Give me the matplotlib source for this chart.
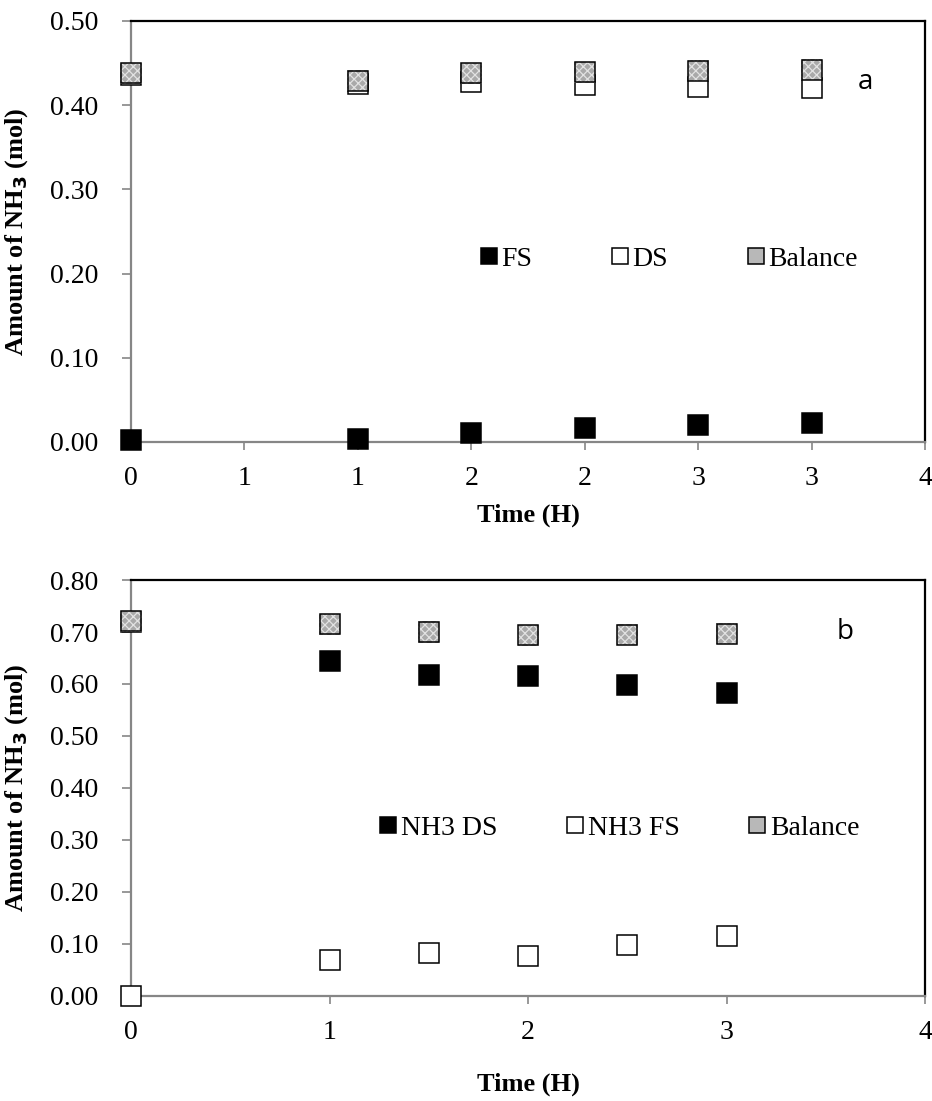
import numpy as np
import matplotlib
matplotlib.use('Agg')
import matplotlib.pyplot as plt
from matplotlib.lines import Line2D

plt.rcParams['font.family'] = 'Liberation Serif'
plt.rcParams['font.size'] = 20
plt.rcParams['hatch.linewidth'] = 0.9

# data
time = [0, 1, 1.5, 2, 2.5, 3]

fs_a = [0.002, 0.004, 0.011, 0.017, 0.020, 0.022]
ds_a = [0.436, 0.425, 0.428, 0.424, 0.422, 0.420]
bal_a = [0.438, 0.429, 0.438, 0.439, 0.441, 0.442]

ds_b = [0.720, 0.645, 0.617, 0.615, 0.598, 0.582]
fs_b = [0.000, 0.070, 0.082, 0.077, 0.098, 0.115]
bal_b = [0.721, 0.715, 0.700, 0.694, 0.695, 0.697]

xticks_a = [0, 0.5, 1, 1.5, 2, 2.5, 3, 3.5]
xlabels_a = ['0', '1', '1', '2', '2', '3', '3', '4']
xticks_b = [0, 1, 2, 3, 4]

GREY = '#868686'
BAL = '#a9a9a9'
ms = 14.5
mew = 1.1


def style_axes(ax):
    for s in ['left', 'bottom']:
        ax.spines[s].set_color(GREY)
        ax.spines[s].set_linewidth(1.6)
    for s in ['top', 'right']:
        ax.spines[s].set_color('black')
        ax.spines[s].set_linewidth(1.6)
    ax.tick_params(axis='y', direction='out', length=6.5, width=1.2,
                   color=GREY, pad=17)
    ax.tick_params(axis='x', direction='out', length=5.5, width=1.2,
                   color=GREY, pad=12)
    ax.set_ylabel('Amount of NH$_\\mathbf{3}$ (mol)', fontweight='bold', fontsize=19)
    ax.yaxis.set_label_coords(-0.127, 0.5)
    ax.yaxis.set_major_formatter(matplotlib.ticker.FormatStrFormatter('%.2f'))


def balance(ax, x, y):
    # grey stippled fill, light hatch, then the black outline on top
    ax.scatter(x, y, s=(ms + mew) ** 2 * 0.95, marker='s', facecolors=BAL,
               edgecolors='#e2e2e2', linewidths=0, hatch='xxxx',
               clip_on=False, zorder=4)
    ax.plot(x, y, 's', ms=ms, mfc='none', mec='black', mew=mew,
            clip_on=False, zorder=5)


def legend_handles(labels):
    styles = [dict(mfc='black', mec='black'),
              dict(mfc='white', mec='black'),
              dict(mfc='#b8b8b8', mec='black')]
    return [Line2D([], [], ls='none', marker='s', ms=12, mew=mew, label=l, **st)
            for l, st in zip(labels, styles)]


fig = plt.figure(figsize=(9.32, 11.01), dpi=100)

# ---- panel a
ax1 = fig.add_axes([0.1406, 0.5986, 0.852, 0.3824])
ax1.plot(time, fs_a, 's', ms=ms, mfc='black', mec='black', mew=mew, clip_on=False, zorder=3)
ax1.plot(time, ds_a, 's', ms=ms, mfc='white', mec='black', mew=mew, clip_on=False, zorder=3)
balance(ax1, time, bal_a)
ax1.set_xlim(0, 3.5)
ax1.set_ylim(0, 0.5)
ax1.set_xticks(xticks_a)
ax1.set_xticklabels(xlabels_a)
ax1.set_yticks(np.arange(0, 0.51, 0.1))
style_axes(ax1)
ax1.set_xlabel('Time (H)', fontweight='bold', fontsize=19, labelpad=9)
ax1.text(0.915, 0.855, 'a', transform=ax1.transAxes, fontsize=20,
         family='Open Sans', va='center', ha='left')
ax1.legend(handles=legend_handles(['FS', 'DS', 'Balance']), ncol=3,
           loc='center left', bbox_to_anchor=(0.437, 0.435), frameon=False,
           borderpad=0, borderaxespad=0, handlelength=0.8, handletextpad=0.05,
           columnspacing=2.75)

# ---- panel b
ax2 = fig.add_axes([0.1406, 0.0954, 0.852, 0.3778])
ax2.plot(time, fs_b, 's', ms=ms, mfc='white', mec='black', mew=mew, clip_on=False, zorder=3)
ax2.plot(time, ds_b, 's', ms=ms, mfc='black', mec='black', mew=mew, clip_on=False, zorder=3)
balance(ax2, time, bal_b)
ax2.set_xlim(0, 4)
ax2.set_ylim(0, 0.8)
ax2.set_xticks(xticks_b)
ax2.set_yticks(np.arange(0, 0.81, 0.1))
style_axes(ax2)
ax2.set_xlabel('Time (H)', fontweight='bold', fontsize=19, labelpad=20)
ax2.text(0.888, 0.875, 'b', transform=ax2.transAxes, fontsize=20,
         family='Open Sans', va='center', ha='left')
ax2.legend(handles=legend_handles(['NH3 DS', 'NH3 FS', 'Balance']), ncol=3,
           loc='center left', bbox_to_anchor=(0.31, 0.404), frameon=False,
           borderpad=0, borderaxespad=0, handlelength=0.8, handletextpad=0.05,
           columnspacing=2.4)

fig.savefig('out.png', dpi=100)
